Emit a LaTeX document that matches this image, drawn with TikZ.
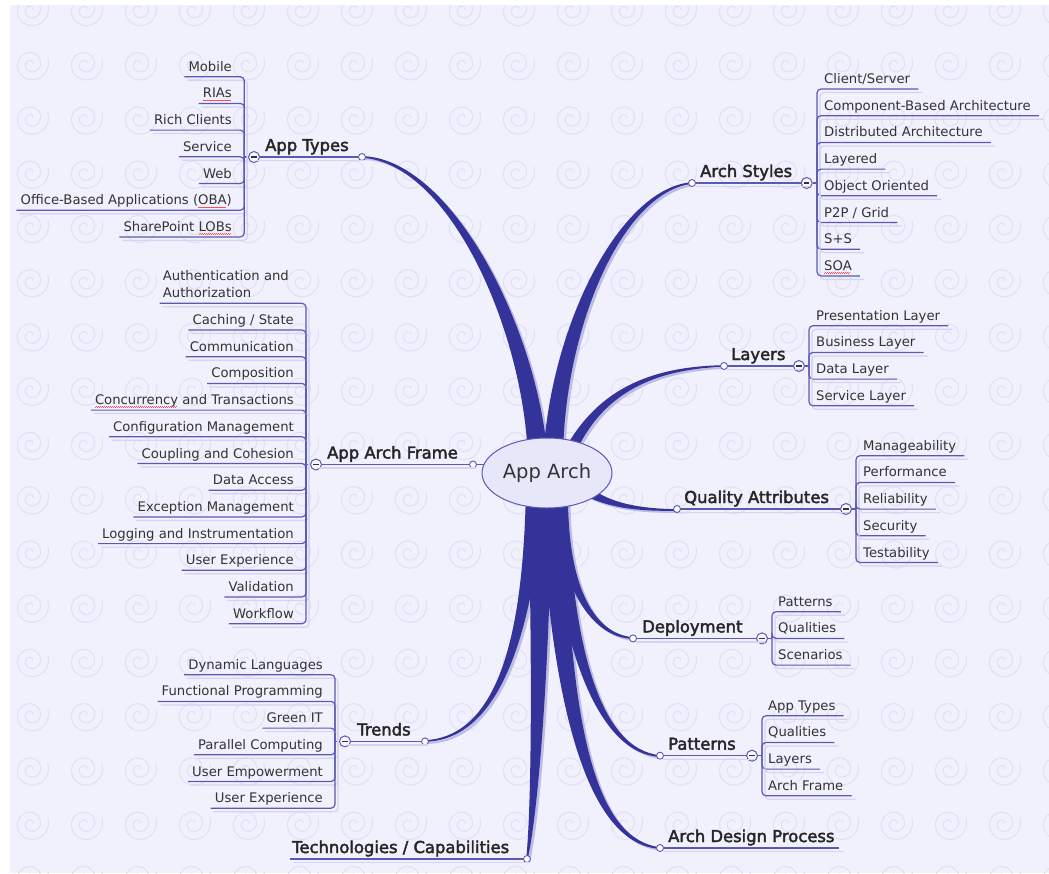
\documentclass[tikz,border=0pt]{standalone}
\usepackage{fontspec}
\setmainfont{DejaVu Sans}
\newfontfamily\topicfont[FakeBold=2.4]{DejaVu Sans}
\usetikzlibrary{calc,shapes.geometric}

\definecolor{paper}{HTML}{F1F0FD}
\definecolor{swirl}{HTML}{E1E1F6}
\definecolor{trunk}{HTML}{333399}
\definecolor{trunkshade}{HTML}{BCBCE4}
\definecolor{wirec}{HTML}{5A5AB4}
\definecolor{wireshade}{HTML}{D4D4F0}
\definecolor{ink}{HTML}{333333}
\definecolor{hubfill}{HTML}{E7E7FA}
\definecolor{foldfill}{HTML}{F6F6FF}

% red spell-check marks under a word
\newsavebox\sqbox
\newcommand\squig[1]{\sbox\sqbox{#1}\rlap{\usebox\sqbox}\raisebox{-2.8pt}{\textcolor{red!70}{\leaders\hbox to 2pt{\rule{1pt}{0.45pt}\rule[0.5pt]{1pt}{0.45pt}}\hskip\wd\sqbox}}}

% tapered branch: base, control 1, control 2, tip, half widths at base / c1 / c2
\newcommand\limb[7]{%
  \fill ($#1!#5!90:#2$) .. controls ($#2!#6!90:#3$) and ($#3!#7!90:#4$) .. ($#4!0.8pt!-90:#3$)
     -- ($#4!0.8pt!90:#3$) .. controls ($#3!#7!-90:#4$) and ($#2!#6!-90:#3$) .. ($#1!#5!-90:#2$) -- cycle;}

% leaves on the left of their junction: prefix, junction, right edge, first underline y, labels
\newcommand\leftleaves[5]{%
  \foreach \lbl [count=\i from 0] in {#5}{%
    \node[leaf, anchor=base east] (#1\i) at (#3, {#4+26.7*\i-5.5}) {\lbl};
    \draw[wireshadow, rounded corners=4pt] ($(#2)+(3,3.5)$) |- ($(#1\i.base west)+(-1,9)$);
    \draw[wire, rounded corners=4pt] (#2) |- ($(#1\i.base west)+(-4,5.5)$);
  }}
% leaves on the right of their junction: prefix, junction, left edge, first underline y, labels
\newcommand\rightleaves[5]{%
  \foreach \lbl [count=\i from 0] in {#5}{%
    \node[leaf, anchor=base west] (#1\i) at (#3, {#4+26.7*\i-5.5}) {\lbl};
    \draw[wireshadow, rounded corners=4pt] ($(#2)+(3,3.5)$) |- ($(#1\i.base east)+(12,9)$);
    \draw[wire, rounded corners=4pt] (#2) |- ($(#1\i.base east)+(8,5.5)$);
  }}

\tikzset{
  leaf/.style={font=\fontsize{13.2}{17}\selectfont, text=ink, inner sep=0pt},
  topic/.style={font=\topicfont\fontsize{16.4}{18}\selectfont, text=black!85, inner sep=0pt},
  wire/.style={draw=wirec, line width=1.2pt},
  wireshadow/.style={draw=wireshade, line width=1.2pt},
  knob/.style={circle, draw=wirec, fill=white, line width=0.9pt, minimum size=7pt, inner sep=0pt},
  fold/.style={circle, draw=wirec, fill=foldfill, line width=1pt, minimum size=11pt, inner sep=0pt,
    path picture={\draw[line width=1.1pt, ink] ([xshift=-2.6pt]path picture bounding box.center) -- ([xshift=2.6pt]path picture bounding box.center);}},
}

\begin{document}
\begin{tikzpicture}[x=1pt, y=-1pt]
\useasboundingbox (0,0) rectangle (1049,873);
\fill[white] (0,0) rectangle (1049,873);
\fill[paper] (10,5) rectangle (1049,873);

% swirl wallpaper
\begin{scope}
  \clip (10,5) rectangle (1049,873);
  \foreach \i in {0,...,19}{\foreach \j in {0,...,16}{
    \draw[swirl, line width=1.1pt] plot[smooth, variable=\a, domain=-700:20, samples=40]
      ({31+54*\i+(2+16*(\a+700)/720)*cos(\a)}, {10+54.25*\j-(2+16*(\a+700)/720)*sin(\a)});
  }}
\end{scope}

% branches: soft shade first, then the dark stems
\foreach \lay/\col/\dx/\dy in {shade/trunkshade/2.5/2, stem/trunk/0/0}{
\begin{scope}[fill=\col, shift={(\dx,\dy)}]
  \limb{(538,462)}{(532,330)}{(450,160)}{(362,157)}{10pt}{7.5pt}{2.5pt}
  \limb{(553,462)}{(556,330)}{(620,190)}{(692,183)}{10pt}{7.5pt}{2.5pt}
  \limb{(565,462)}{(592,400)}{(640,368)}{(724,366)}{6pt}{4pt}{1.5pt}
  \limb{(585,490)}{(605,503)}{(630,510)}{(677,510)}{5pt}{3pt}{1.5pt}
  \limb{(560,490)}{(562,585)}{(592,636)}{(633,638)}{8pt}{5.5pt}{2pt}
  \limb{(557,490)}{(565,650)}{(600,752)}{(660,756)}{10pt}{7pt}{2.5pt}
  \limb{(552,490)}{(560,720)}{(592,842)}{(660,848)}{12pt}{9pt}{3pt}
  \limb{(540,490)}{(541,650)}{(536,800)}{(527,859)}{12pt}{9pt}{4pt}
  \limb{(535,490)}{(530,600)}{(510,738)}{(425,741)}{9pt}{6.5pt}{2pt}
\end{scope}}

% ---------- App Types ----------
\node[knob] (kAT) at (362,157) {};
\node[fold] (fAT) at (254,157) {};
\coordinate (jAT) at (244.3,157);
\node[topic, anchor=base west] (tAT) at (265,151) {App Types};
\draw[wireshadow] ($(fAT)+(3,3.5)$) -- ($(kAT)+(3,3.5)$);
\draw[wire] (fAT) -- (kAT);
\draw[wire] (fAT) -- (jAT);
\leftleaves{at}{jAT}{232}{76.7}{Mobile, \squig{RIAs}, Rich Clients, Service, Web, Office-Based Applications (\squig{OBA}), SharePoint \squig{LOBs}}

% ---------- App Arch Frame ----------
\node[knob] (kAF) at (473,464.5) {};
\node[fold] (fAF) at (316,464.5) {};
\coordinate (jAF) at (306,464.5);
\node[topic, anchor=base west] (tAF) at (327,458.5) {App Arch Frame};
\draw[wireshadow] ($(fAF)+(3,3.5)$) -- ($(kAF)+(3,3.5)$);
\draw[wire] (fAF) -- (kAF);
\draw[wire] (fAF) -- (jAF);
\node[leaf, anchor=base west] (af) at (162.7,297) {\begin{tabular}[b]{@{}l@{}}Authentication and\\Authorization\end{tabular}};
\draw[wireshadow, rounded corners=4pt] ($(jAF)+(3,3.5)$) |- ($(af.base west)+(0,9.8)$);
\draw[wire, rounded corners=4pt] (jAF) |- ($(af.base west)+(-3,6.3)$);
\leftleaves{af}{jAF}{294}{330}{Caching / State, Communication, Composition, \squig{Concurrency} and Transactions, Configuration Management, Coupling and Cohesion, Data Access, Exception Management, Logging and Instrumentation, User Experience, Validation, Workflow}

% ---------- Trends ----------
\node[knob] (kTR) at (425,741.4) {};
\node[fold] (fTR) at (345,741.4) {};
\coordinate (jTR) at (335,741.4);
\node[topic, anchor=base west] (tTR) at (357,735.4) {Trends};
\draw[wireshadow] ($(fTR)+(3,3.5)$) -- ($(kTR)+(3,3.5)$);
\draw[wire] (fTR) -- (kTR);
\draw[wire] (fTR) -- (jTR);
\leftleaves{tr}{jTR}{323}{674.7}{Dynamic Languages, Functional Programming, Green IT, Parallel Computing, User Empowerment, User Experience}

% ---------- Technologies / Capabilities ----------
\node[knob] (kTC) at (527,859) {};
\node[topic, anchor=base west] (tTC) at (292,853) {Technologies / Capabilities};
\draw[wireshadow] ($(tTC.base west)+(1,9.5)$) -- ($(kTC)+(3,3.5)$);
\draw[wire] ($(tTC.base west)+(-2,6)$) -- (kTC);

% ---------- Arch Styles ----------
\node[knob] (kAS) at (692,183) {};
\node[fold] (fAS) at (806.7,183) {};
\coordinate (jAS) at (817,183);
\node[topic, anchor=base west] (tAS) at (700,177) {Arch Styles};
\draw[wireshadow] ($(kAS)+(3,3.5)$) -- ($(fAS)+(3,3.5)$);
\draw[wire] (kAS) -- (fAS);
\draw[wire] (fAS) -- (jAS);
\rightleaves{as}{jAS}{824}{89}{Client/Server, Component-Based Architecture, Distributed Architecture, Layered, Object Oriented, P2P / Grid, S+S, \squig{SOA}}

% ---------- Layers ----------
\node[knob] (kLY) at (724,366) {};
\node[fold] (fLY) at (799,366) {};
\coordinate (jLY) at (809,366);
\node[topic, anchor=base west] (tLY) at (731,360) {Layers};
\draw[wireshadow] ($(kLY)+(3,3.5)$) -- ($(fLY)+(3,3.5)$);
\draw[wire] (kLY) -- (fLY);
\draw[wire] (fLY) -- (jLY);
\rightleaves{ly}{jLY}{816}{325.7}{Presentation Layer, Business Layer, Data Layer, Service Layer}

% ---------- Quality Attributes ----------
\node[knob] (kQA) at (677,509) {};
\node[fold] (fQA) at (846,509) {};
\coordinate (jQA) at (856,509);
\node[topic, anchor=base west] (tQA) at (684,503) {Quality Attributes};
\draw[wireshadow] ($(kQA)+(3,3.5)$) -- ($(fQA)+(3,3.5)$);
\draw[wire] (kQA) -- (fQA);
\draw[wire] (fQA) -- (jQA);
\rightleaves{qa}{jQA}{863}{455.7}{Manageability, Performance, Reliability, Security, Testability}

% ---------- Deployment ----------
\node[knob] (kDP) at (633,638.4) {};
\node[fold] (fDP) at (762,638.4) {};
\coordinate (jDP) at (772,638.4);
\node[topic, anchor=base west] (tDP) at (642,632.4) {Deployment};
\draw[wireshadow] ($(kDP)+(3,3.5)$) -- ($(fDP)+(3,3.5)$);
\draw[wire] (kDP) -- (fDP);
\draw[wire] (fDP) -- (jDP);
\rightleaves{dp}{jDP}{778}{611.7}{Patterns, Qualities, Scenarios}

% ---------- Patterns ----------
\node[knob] (kPT) at (660,755.7) {};
\node[fold] (fPT) at (752,755.7) {};
\coordinate (jPT) at (762,755.7);
\node[topic, anchor=base west] (tPT) at (668,749.7) {Patterns};
\draw[wireshadow] ($(kPT)+(3,3.5)$) -- ($(fPT)+(3,3.5)$);
\draw[wire] (kPT) -- (fPT);
\draw[wire] (fPT) -- (jPT);
\rightleaves{pt}{jPT}{768}{715.7}{App Types, Qualities, Layers, Arch Frame}

% ---------- Arch Design Process ----------
\node[knob] (kAD) at (660,848) {};
\node[topic, anchor=base west] (tAD) at (668,842) {Arch Design Process};
\draw[wireshadow] ($(kAD)+(3,3.5)$) -- ($(tAD.base east)+(9,9.5)$);
\draw[wire] (kAD) -- ($(tAD.base east)+(4,6)$);

% ---------- central topic ----------
\draw[wire] (kAF) -- (kAF -| 540,0);
\node[ellipse, draw=wirec, fill=hubfill, line width=1pt, minimum width=130pt, minimum height=70pt,
      inner sep=0pt, font=\fontsize{19.5}{22}\selectfont, text=ink] (hub) at (547,473) {App Arch};
\end{tikzpicture}
\end{document}
